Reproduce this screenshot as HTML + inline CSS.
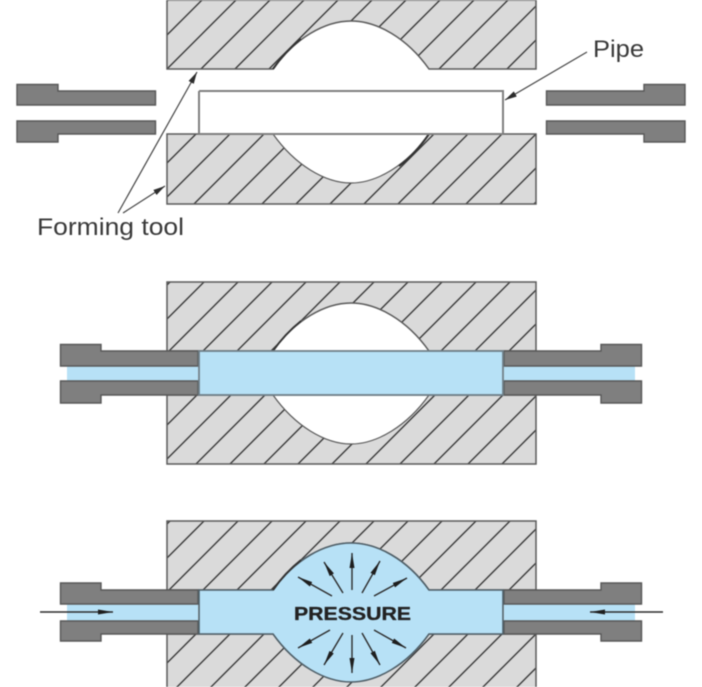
<!DOCTYPE html>
<html><head><meta charset="utf-8"><style>
html,body{margin:0;padding:0;background:#fff;width:702px;height:687px;overflow:hidden}
svg{display:block;filter:blur(0.6px)}
text{font-family:"Liberation Sans",sans-serif}
</style></head><body>
<svg width="702" height="687" viewBox="0 0 702 687" xmlns="http://www.w3.org/2000/svg">
<defs>
<pattern id="h1" patternUnits="userSpaceOnUse" width="34" height="34" patternTransform="translate(32,0)"><rect width="34" height="34" fill="#dadada"/><path d="M-2,36L36,-2M-2,2L2,-2M32,36L36,32" stroke="#3a3a3a" stroke-width="1.4"/></pattern>
<pattern id="h2" patternUnits="userSpaceOnUse" width="34" height="34" patternTransform="translate(24,0)"><rect width="34" height="34" fill="#dadada"/><path d="M-2,36L36,-2M-2,2L2,-2M32,36L36,32" stroke="#3a3a3a" stroke-width="1.4"/></pattern>
<pattern id="h3" patternUnits="userSpaceOnUse" width="34" height="34" patternTransform="translate(10,0)"><rect width="34" height="34" fill="#dadada"/><path d="M-2,36L36,-2M-2,2L2,-2M32,36L36,32" stroke="#3a3a3a" stroke-width="1.4"/></pattern>
<pattern id="h4" patternUnits="userSpaceOnUse" width="34" height="34" patternTransform="translate(14,0)"><rect width="34" height="34" fill="#dadada"/><path d="M-2,36L36,-2M-2,2L2,-2M32,36L36,32" stroke="#3a3a3a" stroke-width="1.4"/></pattern>
<pattern id="h5" patternUnits="userSpaceOnUse" width="34" height="34" patternTransform="translate(11,0)"><rect width="34" height="34" fill="#dadada"/><path d="M-2,36L36,-2M-2,2L2,-2M32,36L36,32" stroke="#3a3a3a" stroke-width="1.4"/></pattern>
<marker id="a" markerUnits="userSpaceOnUse" markerWidth="16" markerHeight="10" refX="15" refY="5" orient="auto"><path d="M0,2.500L15,5L0,7.500Z" fill="#1e1e1e"/></marker>
<marker id="b" markerUnits="userSpaceOnUse" markerWidth="16" markerHeight="10" refX="12" refY="5" orient="auto"><path d="M0,2L12,5L0,8Z" fill="#2c2c2c"/></marker>
</defs>

<!-- Panel 1 -->
<path d="M167,0H536V69H429C407,38 377,21 351,21C325,21 295,38 273,69H167Z" fill="url(#h1)" stroke="#5a5a5a" stroke-width="1.5"/>
<path d="M273,69C282,56 291,47 301,39" fill="none" stroke="#333" stroke-width="2"/>
<path d="M167,134H536V204H167Z" fill="url(#h2)" stroke="#5a5a5a" stroke-width="1.5"/>
<path d="M273,134C295,165 325,183 351,183C377,183 407,165 429,134Z" fill="#fff" stroke="#5a5a5a" stroke-width="1.2"/>
<path d="M429,134C420,147 410,158 399,166" fill="none" stroke="#333" stroke-width="2"/>
<rect x="199.500" y="92" width="303" height="41" fill="#fff"/>
<path d="M199,91H503V134M199,91V134M199,134H503" fill="none" stroke="#808080" stroke-width="2"/>
<g fill="#7f7f7f" stroke="#585858" stroke-width="1.4">
<path d="M17,84.500H58V91H155.500V105H17Z"/>
<path d="M17,121H155.500V134H58V142H17Z"/>
<path d="M546.500,91H644V84.500H685V105H546.500Z"/>
<path d="M546.500,121H685V142H644V134H546.500Z"/>
</g>
<g fill="none" stroke="#444" stroke-width="1.2">
<path d="M118,213L197,72" marker-end="url(#b)"/>
<path d="M123,213L165,186" marker-end="url(#b)"/>
<path d="M587,52L505,100" marker-end="url(#b)"/>
</g>
<text x="37" y="235" font-size="24" fill="#3a3a3a" textLength="147" lengthAdjust="spacingAndGlyphs">Forming tool</text>
<text x="593" y="57" font-size="24" fill="#3a3a3a" textLength="51" lengthAdjust="spacingAndGlyphs">Pipe</text>

<!-- Panel 2 -->
<path d="M167,282H536V351H429C407,320 377,303 351,303C325,303 295,320 273,351H167Z" fill="url(#h3)" stroke="#5a5a5a" stroke-width="1.5"/>
<path d="M273,351C282,338 291,329 301,321" fill="none" stroke="#333" stroke-width="1.8"/>
<path d="M167,395H536V464H167Z" fill="url(#h4)" stroke="#5a5a5a" stroke-width="1.5"/>
<path d="M273,395C295,426 325,444 351,444C377,444 407,426 429,395Z" fill="#fff" stroke="#5a5a5a" stroke-width="1.2"/>
<rect x="67" y="366" width="131" height="15" fill="#b7e1f6"/>
<rect x="504" y="366" width="131" height="15" fill="#b7e1f6"/>
<g fill="#7f7f7f" stroke="#585858" stroke-width="1.4">
<path d="M60.500,344.500H101V351H198V366H60.500Z"/>
<path d="M60.500,381H198V395H101V403H60.500Z"/>
<path d="M504,351H601V344.500H641.500V366H504Z"/>
<path d="M504,381H641.500V403H601V395H504Z"/>
</g>
<rect x="199" y="351" width="304" height="44" fill="#b7e1f6" stroke="#6f7f88" stroke-width="1.8"/>

<!-- Panel 3 -->
<path d="M167,521H536V590H429C407,559 377,543 351,543C325,543 295,559 273,590H167Z" fill="url(#h5)" stroke="#5a5a5a" stroke-width="1.5"/>
<path d="M167,634H536V690H167Z" fill="url(#h4)" stroke="#5a5a5a" stroke-width="1.5"/>
<rect x="67" y="604" width="131" height="17" fill="#b7e1f6"/>
<rect x="504" y="604" width="131" height="17" fill="#b7e1f6"/>
<g fill="#7f7f7f" stroke="#585858" stroke-width="1.4">
<path d="M60.500,583H101V590H198V604H60.500Z"/>
<path d="M60.500,621H198V634H101V641H60.500Z"/>
<path d="M504,590H601V583H641.500V604H504Z"/>
<path d="M504,621H641.500V641H601V634H504Z"/>
</g>
<path d="M199,590H273C295,559 325,543 351,543C377,543 407,559 429,590H503V634H429C407,665 377,682 351,682C325,682 295,665 273,634H199Z" fill="#b7e1f6" stroke="#4f5f68" stroke-width="1.6"/>
<path d="M273,590C282,577 291,568 301,560" fill="none" stroke="#333" stroke-width="2"/>
<g fill="none" stroke="#2c2c2c" stroke-width="1.4">
<path d="M352,590L352,553" marker-end="url(#a)"/>
<path d="M343,593L324,562" marker-end="url(#a)"/>
<path d="M332,596L298,577" marker-end="url(#a)"/>
<path d="M362,593L380,561" marker-end="url(#a)"/>
<path d="M374,596L407,578" marker-end="url(#a)"/>
<path d="M352,635L352,673" marker-end="url(#a)"/>
<path d="M343,633L324,665" marker-end="url(#a)"/>
<path d="M330,630L298,648" marker-end="url(#a)"/>
<path d="M362,633L380,665" marker-end="url(#a)"/>
<path d="M374,630L406,648" marker-end="url(#a)"/>
<path d="M40,612L113,612" marker-end="url(#a)"/>
<path d="M663,612L590,612" marker-end="url(#a)"/>
</g>
<text x="294" y="620" font-size="18" font-weight="bold" fill="#222" stroke="#222" stroke-width="0.3" textLength="117" lengthAdjust="spacingAndGlyphs">PRESSURE</text>
</svg>
</body></html>
